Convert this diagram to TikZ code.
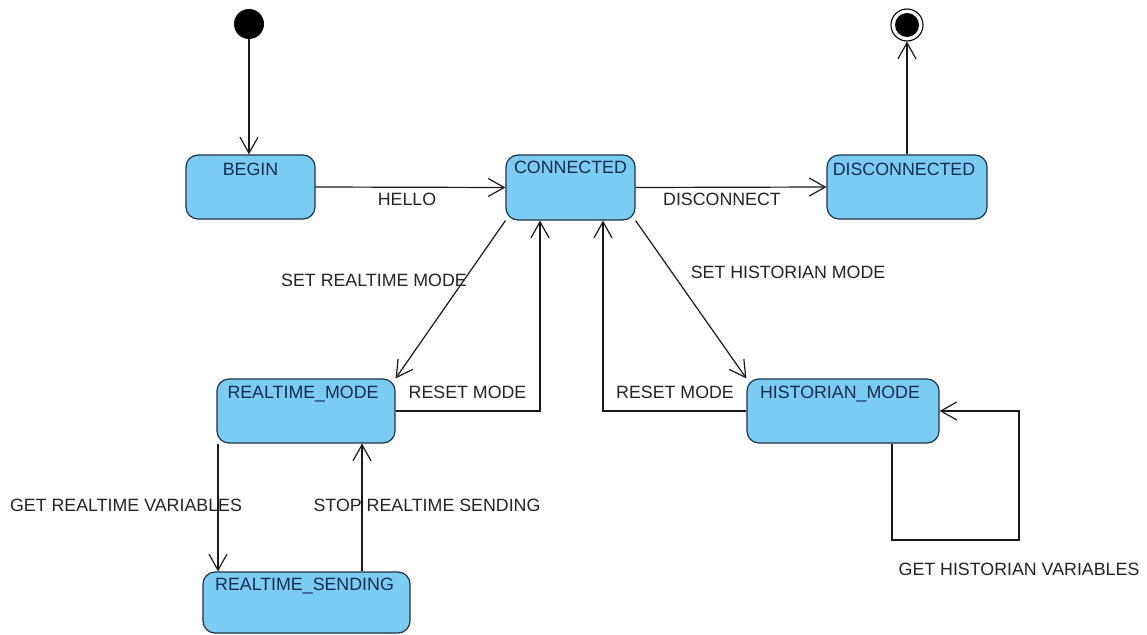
\documentclass[tikz,border=0pt]{standalone}
\usepackage{fontspec}
\setmainfont{Liberation Sans}
\usetikzlibrary{arrows.meta}
\definecolor{statefill}{RGB}{122,204,243}
\definecolor{stateline}{RGB}{30,50,70}
\definecolor{statetext}{RGB}{20,45,75}
\definecolor{wire}{RGB}{25,25,25}
\definecolor{labeltext}{RGB}{35,35,35}
\begin{document}
\begin{tikzpicture}[x=1pt,y=-1pt,
  statebox/.style={draw=stateline, fill=statefill, line width=1.2pt,
    rounded corners=12pt, minimum height=64pt, inner sep=0pt},
  statename/.style={anchor=north, inner sep=0pt, text=statetext,
    font=\fontsize{17.8}{20}\selectfont},
  flow/.style={draw=wire, line width=1.2pt,
    -{Straight Barb[length=16pt,width=18pt]}},
  edgelabel/.style={inner sep=0pt, text=labeltext,
    font=\fontsize{17.8}{20}\selectfont}]
\useasboundingbox (0,0) rectangle (1147,634);

% pseudo states
\node[circle, fill=black, minimum size=30pt, inner sep=0pt] (start) at (249,24) {};
\node[circle, draw=black, fill=white, line width=1.1pt, minimum size=32pt, inner sep=0pt] (final) at (907,25) {};
\node[circle, fill=black, minimum size=24pt, inner sep=0pt] (finaldot) at (final) {};

% states
\node[statebox, minimum width=129pt] (begin) at (250.5,187) {};
\node[statebox, minimum width=129pt, minimum height=65pt] (connected) at (570.5,187.5) {};
\node[statebox, minimum width=160pt] (disconnected) at (907,187) {};
\node[statebox, minimum width=178pt] (rtmode) at (306,411) {};
\node[statebox, minimum width=192pt] (histmode) at (843,411) {};
\node[statebox, minimum width=207pt, minimum height=61pt] (rtsend) at (306.5,602.5) {};

\node[statename] (begin-t) at ([yshift=-8pt]begin.north) {BEGIN};
\node[statename] (connected-t) at ([yshift=-6pt]connected.north) {CONNECTED};
\node[statename] (disconnected-t) at ([xshift=-3pt,yshift=-8pt]disconnected.north) {DISCONNECTED};
\node[statename] (rtmode-t) at ([xshift=-3pt,yshift=-7pt]rtmode.north) {REALTIME\_MODE};
\node[statename] (histmode-t) at ([xshift=-3pt,yshift=-7pt]histmode.north) {HISTORIAN\_MODE};
\node[statename] (rtsend-t) at ([xshift=-2pt,yshift=-6pt]rtsend.north) {REALTIME\_SENDING};

% bend points of the orthogonal connectors
\coordinate (rtback) at (540,411);
\coordinate (histback) at (603,411);
\coordinate (loopa) at (892,540);
\coordinate (loopb) at (1019,540);
\coordinate (getx) at (218,500);
\coordinate (stopx) at (362,500);

% transitions
\draw[flow] (start) -- (start |- begin.north);
\draw[flow] (begin.east) -- (connected.west);
\draw[flow] (connected.east) -- (disconnected.west);
\draw[flow] (disconnected.north) -- (final.south);
\draw[flow] (connected.south west) -- (rtmode.north east);
\draw[flow] (connected.south east) -- (histmode.north west);
\draw[flow] (rtmode.east) -- (rtback) -- (rtback |- connected.south);
\draw[flow] (histmode.west) -- (histback) -- (histback |- connected.south);
\draw[flow] (loopa |- histmode.south) -- (loopa) -- (loopb) -- (loopb |- histmode.east) -- (histmode.east);
\draw[flow] (getx |- rtmode.south) -- (getx |- rtsend.north);
\draw[flow] (stopx |- rtsend.north) -- (stopx |- rtmode.south);

% transition labels
\node[edgelabel] (l-hello) at (407,199) {HELLO};
\node[edgelabel] (l-disc) at (722,199) {DISCONNECT};
\node[edgelabel] (l-setrt) at (374,280) {SET REALTIME MODE};
\node[edgelabel] (l-sethist) at (788,272) {SET HISTORIAN MODE};
\node[edgelabel] (l-resetrt) at (467.5,392) {RESET MODE};
\node[edgelabel] (l-resethist) at (675,392) {RESET MODE};
\node[edgelabel] (l-getrt) at (126,505) {GET REALTIME VARIABLES};
\node[edgelabel] (l-stoprt) at (427,505) {STOP REALTIME SENDING};
\node[edgelabel] (l-gethist) at (1019,569) {GET HISTORIAN VARIABLES};
\end{tikzpicture}
\end{document}
